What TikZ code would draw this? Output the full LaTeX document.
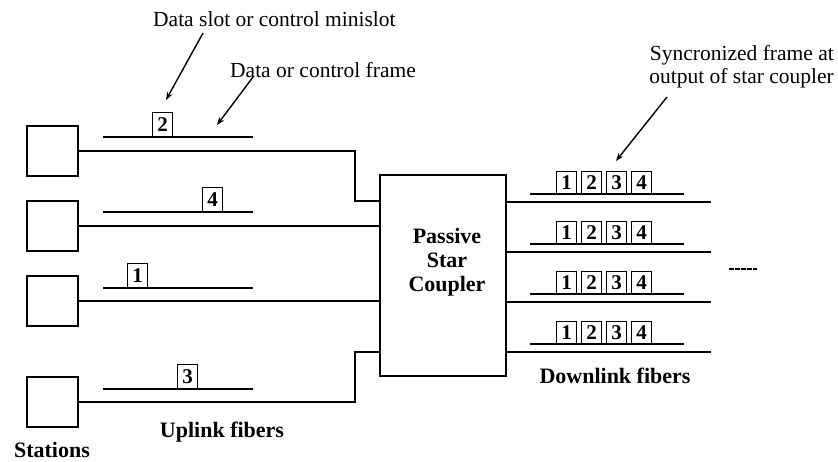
\documentclass[tikz,border=0pt]{standalone}
\usepackage{fontspec}
\setmainfont{Liberation Serif}
\usetikzlibrary{arrows.meta}
\tikzset{
  station/.style={draw,line width=1.7pt,minimum width=51pt,minimum height=50pt,inner sep=0pt},
  slotbox/.style={draw,line width=1.2pt,minimum width=20pt,minimum height=24pt,inner sep=0pt,anchor=south west,font=\fontsize{21}{21}\selectfont\bfseries},
  fiber/.style={line width=1.8pt},
  framebar/.style={line width=1.8pt},
  pointer/.style={line width=1.4pt,-{Stealth[length=8pt,width=6pt]}},
  lbl/.style={inner sep=0pt,font=\fontsize{21.5}{23}\selectfont},
  boldlbl/.style={inner sep=0pt,font=\fontsize{22}{24}\selectfont\bfseries}
}
\begin{document}
\begin{tikzpicture}[x=1pt,y=-1pt]
\useasboundingbox (0,0) rectangle (838,462);
\node[station] (s1) at (52.5,151) {};
\node[station] (s2) at (52.5,226) {};
\node[station] (s3) at (52.5,301) {};
\node[station] (s4) at (52.5,402) {};
\node[draw,line width=1.7pt,minimum width=126pt,minimum height=201pt] (coupler) at (443,275.5) {};
\node[boldlbl,align=center] (couplertext) at (447,262) {Passive\\Star\\Coupler};

\coordinate (in1) at (380,201);
\coordinate (in2) at (380,226);
\coordinate (in3) at (380,301);
\coordinate (in4) at (380,352);
\draw[fiber] (s1.east) -- ++(276,0) |- (in1);
\draw[fiber] (s2.east) -- (in2);
\draw[fiber] (s3.east) -- (in3);
\draw[fiber] (s4.east) -- ++(276,0) |- (in4);

\draw[framebar] (103,137) -- (253,137);
\draw[framebar] (103,212) -- (253,212);
\draw[framebar] (103,288) -- (253,288);
\draw[framebar] (103,389) -- (253,389);
\node[slotbox] (u2) at (152,137) {2};
\node[slotbox] (u4) at (202,212) {4};
\node[slotbox] (u1) at (127,288) {1};
\node[slotbox] (u3) at (177,389) {3};

\foreach \r/\y in {1/202,2/252,3/302,4/352} {
  \coordinate (out\r) at (711,\y);
  \draw[fiber] (coupler.east |- out\r) -- (out\r);
  \draw[framebar] (530,\y-8) -- (684,\y-8);
  \foreach \k in {1,...,4}
    \node[slotbox,minimum height=22pt] (d\r\k) at (531+25*\k,\y-8) {\k};
}
\draw[line width=2.5pt,dash pattern=on 4.5pt off 1.5pt] (729,269) -- (757,269);

\node[lbl,anchor=base west] (slotlbl) at (153,27) {Data slot or control minislot};
\node[lbl,anchor=base west] (framelbl) at (230,78) {Data or control frame};
\node[lbl,anchor=north east,align=right] (synclbl) at (834,45) {Syncronized frame at\\output of star coupler};
\coordinate (p1) at (203,33);
\coordinate (q1) at (166,100);
\coordinate (p2) at (253,77);
\coordinate (q2) at (217,125);
\coordinate (p3) at (667,97);
\coordinate (q3) at (616,161);
\draw[pointer] (p1) -- (q1);
\draw[pointer] (p2) -- (q2);
\draw[pointer] (p3) -- (q3);

\node[boldlbl,anchor=base] (stationlbl) at (52,457) {Stations};
\node[boldlbl,anchor=base] (uplbl) at (222,437) {Uplink fibers};
\node[boldlbl,anchor=base] (downlbl) at (615,383) {Downlink fibers};
\end{tikzpicture}
\end{document}
